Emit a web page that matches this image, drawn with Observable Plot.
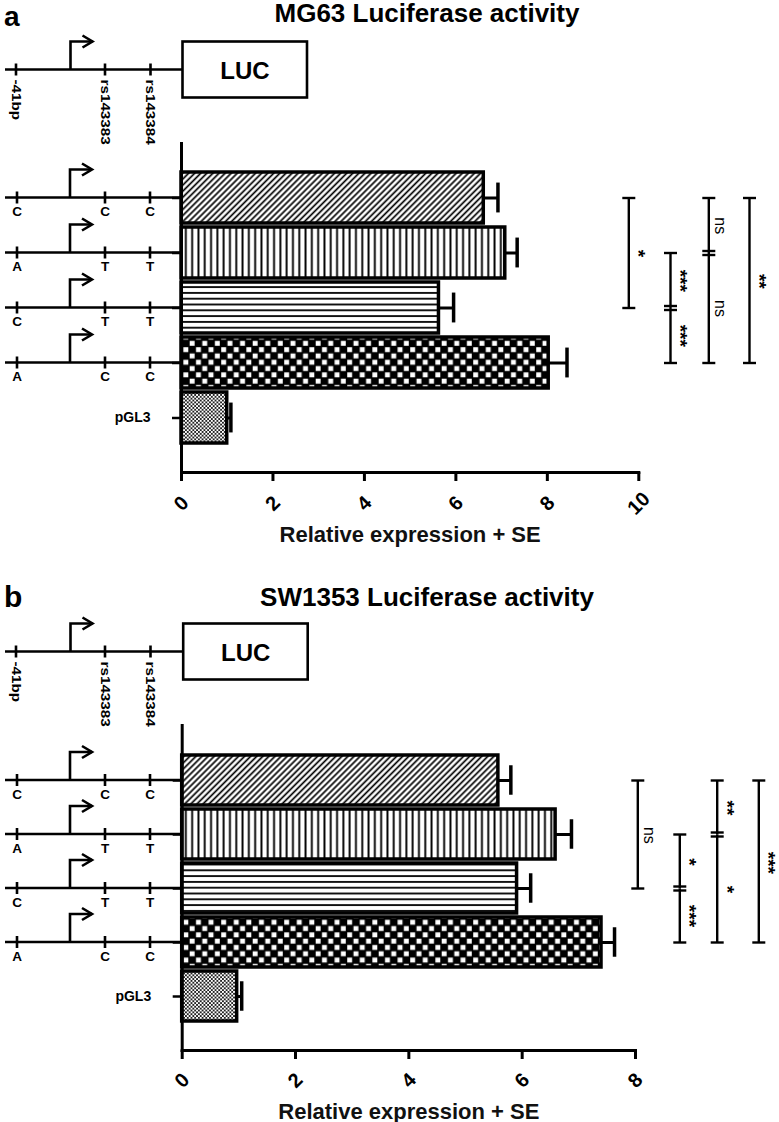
<!DOCTYPE html>
<html>
<head>
<meta charset="utf-8">
<script src="https://cdn.jsdelivr.net/npm/d3@7"></script>
<script src="https://cdn.jsdelivr.net/npm/@observablehq/plot@0.6"></script>
<style>
  body { margin: 0; background: #fff; width: 779px; height: 1122px; overflow: hidden; }
  #root { position: relative; width: 779px; height: 1122px; }
  .panel { position: absolute; left: 0; }
</style>
</head>
<body>
<div id="root"></div>
<script>
// ---------- data ----------
const rows = ["C-C-C", "A-T-T", "C-T-T", "A-C-C", "pGL3"];
const rowAlleles = [["C", "C", "C"], ["A", "T", "T"], ["C", "T", "T"], ["A", "C", "C"]];
const siteNames = ["-41bp", "rs143383", "rs143384"];

const mg63Values = [6.61, 7.08, 5.63, 8.03, 1.0];
const mg63SE = [0.31, 0.26, 0.32, 0.40, 0.08];
const mg63Ticks = [0, 2, 4, 6, 8, 10];
const mg63Brackets = [
  {rows: ["C-C-C", "C-T-T"], labels: ["*"]},
  {rows: ["A-T-T", "C-T-T", "A-C-C"], labels: ["***", "***"]},
  {rows: ["C-C-C", "A-T-T", "A-C-C"], labels: ["ns", "ns"]},
  {rows: ["C-C-C", "A-C-C"], labels: ["**"]}
];

const sw1353Values = [5.58, 6.59, 5.91, 7.40, 0.97];
const sw1353SE = [0.22, 0.28, 0.24, 0.23, 0.08];
const sw1353Ticks = [0, 2, 4, 6, 8];
const sw1353Brackets = [
  {rows: ["C-C-C", "C-T-T"], labels: ["ns"]},
  {rows: ["A-T-T", "C-T-T", "A-C-C"], labels: ["*", "***"]},
  {rows: ["C-C-C", "A-T-T", "A-C-C"], labels: ["**", "*"]},
  {rows: ["C-C-C", "A-C-C"], labels: ["***"]}
];

const axisTitle = "Relative expression + SE";

// ---------- styles / layout ----------
const patternIds = ["diag", "vert", "horiz", "check", "fine"];
const FONT = "'Liberation Sans', Arial, sans-serif";

const panels = [
  {letter: "a", title: "MG63 Luciferase activity", values: mg63Values, se: mg63SE, ticks: mg63Ticks, xmax: 10,
   brackets: mg63Brackets, top: 0, height: 560, mL: 181, xR: 638.3, fTop: 143, fBot: 472,
   letterY: 26, letterSize: 28, titleY: 22, bracketX: [628.3, 670, 708.3, 749], tickDy: 31, labelDy: 62},
  {letter: "b", title: "SW1353 Luciferase activity", values: sw1353Values, se: sw1353SE, ticks: sw1353Ticks, xmax: 8,
   brackets: sw1353Brackets, top: 560, height: 562, mL: 181.7, xR: 635, fTop: 165, fBot: 490,
   letterY: 47, letterSize: 30, titleY: 46, bracketX: [637.3, 679.3, 716.7, 758.3], tickDy: 30, labelDy: 61}
];

function patternDefs(pfx) {
  return `
  <pattern id="${pfx}-diag" patternUnits="userSpaceOnUse" width="4.3" height="4.3" patternTransform="rotate(45)">
    <rect width="4.3" height="4.3" fill="#fff"/><line x1="2.15" y1="-1" x2="2.15" y2="5.3" stroke="#000" stroke-width="1.7"/></pattern>
  <pattern id="${pfx}-vert" patternUnits="userSpaceOnUse" width="6.3" height="10">
    <rect width="6.3" height="10" fill="#fff"/><rect x="2.2" width="1.9" height="10" fill="#000"/></pattern>
  <pattern id="${pfx}-horiz" patternUnits="userSpaceOnUse" width="10" height="5.8">
    <rect width="10" height="5.8" fill="#fff"/><rect y="2" width="10" height="1.8" fill="#000"/></pattern>
  <pattern id="${pfx}-check" patternUnits="userSpaceOnUse" width="12.6" height="12.6">
    <rect width="12.6" height="12.6" fill="#000"/><rect x="0.7" y="0.7" width="4.9" height="4.9" fill="#fff"/><rect x="7.0" y="7.0" width="4.9" height="4.9" fill="#fff"/></pattern>
  <pattern id="${pfx}-fine" patternUnits="userSpaceOnUse" width="3.7" height="3.7">
    <rect width="3.7" height="3.7" fill="#fff"/><rect width="1.85" height="1.85" fill="#222"/><rect x="1.85" y="1.85" width="1.85" height="1.85" fill="#222"/></pattern>`;
}

function drawConstruct(g, y, xEnd, siteX, arrowX) {
  g.append("line").attr("x1", 5).attr("x2", xEnd).attr("y1", y).attr("y2", y);
  siteX.forEach(x => g.append("line").attr("x1", x).attr("x2", x).attr("y1", y - 6).attr("y2", y + 6));
  const top = y - 28;
  g.append("path").attr("d", `M${arrowX},${y}V${top}H${arrowX + 22}`);
  g.append("path").attr("d", `M${arrowX + 12},${top - 6}L${arrowX + 22},${top}L${arrowX + 12},${top + 6}`);
}

function makePanel(p) {
  const pfx = "pat" + p.letter;
  const n = rows.length;
  const data = rows.map((r, i) => ({row: r, value: p.values[i], se: p.se[i]}));
  const pxPerUnit = (p.xR - p.mL) / p.xmax;
  const toX = px => (px - p.mL) / pxPerUnit;
  const pIn = 0.08, pOut = 0.5;
  const step = (p.fBot - p.fTop) / (n - pIn + 2 * pOut);
  const bw = step * (1 - pIn);
  const capInset = (bw - 30) / 2;

  const marks = [];
  data.forEach((d, i) => marks.push(Plot.barX([d], {
    x: "value", y: "row", fill: `url(#${pfx}-${patternIds[i]})`, stroke: "#000", strokeWidth: 3.5
  })));
  marks.push(Plot.ruleY(data, {y: "row", x1: "value", x2: d => d.value + d.se, stroke: "#000", strokeWidth: 3}));
  marks.push(Plot.tickX(data, {y: "row", x: d => d.value + d.se, stroke: "#000", strokeWidth: 3.5,
    insetTop: capInset, insetBottom: capInset}));

  // significance brackets
  const segs = [], endCaps = [], midCaps = [];
  const capW = 6.5 / pxPerUnit;
  p.brackets.forEach((b, k) => {
    const bx = toX(p.bracketX[k]);
    b.rows.forEach((r, j) => {
      const cap = {x1: bx - capW, x2: bx + capW, y: r};
      if (j === 0 || j === b.rows.length - 1) endCaps.push(cap); else midCaps.push(cap);
      if (j < b.rows.length - 1) {
        segs.push({x: bx, y1: r, y2: b.rows[j + 1], label: b.labels[j],
                   span: rows.indexOf(b.rows[j + 1]) - rows.indexOf(r)});
      }
    });
  });
  const capOpts = {x1: "x1", x2: "x2", y1: "y", y2: "y", stroke: "#000", strokeWidth: 2.4};
  marks.push(Plot.link(segs, {x1: "x", x2: "x", y1: "y1", y2: "y2", stroke: "#000", strokeWidth: 2.4}));
  marks.push(Plot.link(endCaps, capOpts));
  marks.push(Plot.link(midCaps, {...capOpts, dy: -2}));
  marks.push(Plot.link(midCaps, {...capOpts, dy: 2}));
  segs.forEach(s => {
    const ns = s.label === "ns";
    marks.push(Plot.text([s], {
      x: d => d.x + (ns ? 11.5 : 9.5) / pxPerUnit, y: "y1", dy: s.span * step / 2, text: "label", rotate: 90,
      fontSize: ns ? 16 : 19, fontWeight: ns ? "normal" : "bold", fill: "#000",
      textAnchor: "middle", lineAnchor: "middle"
    }));
  });

  // axes
  marks.push(Plot.axisY({tickSize: 9, strokeWidth: 2.5, tickPadding: 22,
    tickFormat: d => d === "pGL3" ? d : "", fontSize: 14, fontWeight: "bold", label: null}));
  marks.push(Plot.axisX({ticks: p.ticks, tickSize: 9, strokeWidth: 3, tickFormat: () => "", label: null}));
  marks.push(Plot.frame({anchor: "left", strokeWidth: 3}));
  marks.push(Plot.frame({anchor: "bottom", strokeWidth: 3}));
  marks.push(Plot.text(p.ticks, {x: d => d, text: d => String(d), frameAnchor: "bottom", dy: p.tickDy,
    rotate: -45, fontSize: 20, fontWeight: "bold", textAnchor: "middle", lineAnchor: "middle", fill: "#000"}));
  marks.push(Plot.text([axisTitle], {text: d => d, frameAnchor: "bottom", dy: p.labelDy,
    fontSize: 22, fontWeight: "bold", lineAnchor: "middle", fill: "#111"}));

  const svg = Plot.plot({
    width: 779, height: p.height,
    marginLeft: p.mL, marginRight: 779 - p.xR, marginTop: p.fTop, marginBottom: p.height - p.fBot,
    x: {domain: [0, p.xmax]},
    y: {type: "band", domain: rows, paddingInner: pIn, paddingOuter: pOut},
    style: {fontFamily: FONT, fontSize: "13px", background: "transparent", overflow: "visible", color: "#000"},
    marks
  });

  const s = d3.select(svg);
  s.insert("defs", ":first-child").html(patternDefs(pfx));

  // titles
  s.append("text").attr("x", 4).attr("y", p.letterY).attr("font-size", p.letterSize).attr("font-weight", "bold")
    .attr("text-anchor", "start").attr("font-family", FONT).attr("fill", "#000").text(p.letter);
  s.append("text").attr("x", 427).attr("y", p.titleY).attr("font-size", 26).attr("font-weight", "bold")
    .attr("text-anchor", "middle").attr("font-family", FONT).attr("fill", "#000").text(p.title);

  // construct schematics
  const ys = svg.scale("y");
  const cy = r => ys.apply(r) + ys.bandwidth / 2;
  const g = s.append("g").attr("stroke", "#000").attr("fill", "none").attr("stroke-width", 2.6);
  const hy = p.fTop - 73.5;
  drawConstruct(g, hy, p.mL + 1, [16, 105, 150.5], 70.5);
  g.append("rect").attr("x", p.mL + 1.5).attr("y", hy - 28).attr("width", 124.5).attr("height", 56).attr("fill", "#fff");
  const tg = s.append("g").attr("font-family", FONT).attr("fill", "#000");
  tg.append("text").attr("x", p.mL + 64).attr("y", hy + 1).attr("text-anchor", "middle")
    .attr("dominant-baseline", "central").attr("font-size", 24).attr("font-weight", "bold").text("LUC");
  [16, 105, 150.5].forEach((x, i) => {
    tg.append("text").attr("transform", `translate(${x},${hy + 10}) rotate(90) scale(1.22,1)`)
      .attr("text-anchor", "start").attr("dominant-baseline", "central")
      .attr("font-size", 12.5).attr("font-weight", "bold").text(siteNames[i]);
  });
  rowAlleles.forEach((al, i) => {
    const y = cy(rows[i]);
    drawConstruct(g, y, p.mL, [17, 105, 150], 70);
    [17, 105, 150].forEach((x, j) => {
      tg.append("text").attr("x", x).attr("y", y + 14).attr("text-anchor", "middle")
        .attr("dominant-baseline", "central").attr("font-size", 13.5).attr("font-weight", "bold").text(al[j]);
    });
  });
  return svg;
}

const root = document.getElementById("root");
panels.forEach(p => {
  const div = document.createElement("div");
  div.className = "panel";
  div.style.top = p.top + "px";
  div.appendChild(makePanel(p));
  root.appendChild(div);
});
</script>
</body>
</html>
